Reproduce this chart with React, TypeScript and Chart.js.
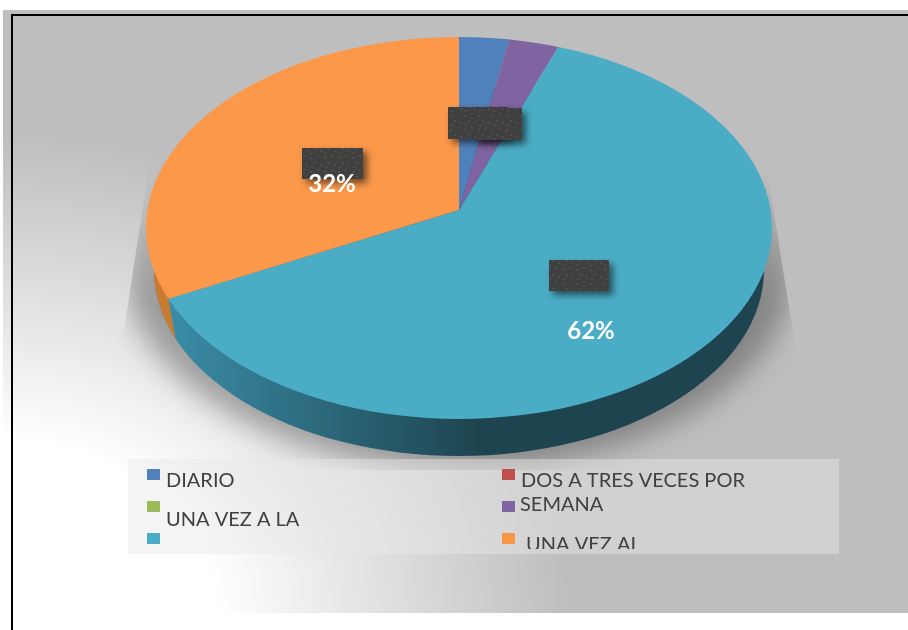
import React, { useEffect, useRef } from "react";
import { Chart, registerables } from "chart.js";

Chart.register(...registerables);

const categories = ["DIARIO", "DOS A TRES VECES POR SEMANA", "UNA VEZ A LA", "", "", "UNA VEZ AL"];
const shares = [3, 0, 0, 3, 62, 32];
const faceColors = ["#4f81bd", "#c0504d", "#9bbb59", "#8064a2", "#4bacc6", "#fb984a"];
const legendSwatches = [
  [147, 469], [502, 469], [147, 501], [502, 501], [147, 533], [502, 533],
];
const legendLines = [
  { text: "DIARIO", x: 166, y: 487 },
  { text: "DOS A TRES VECES POR", x: 521, y: 487 },
  { text: "SEMANA", x: 520, y: 511 },
  { text: "UNA VEZ A LA", x: 166, y: 526 },
  { text: "UNA VEZ AL", x: 526, y: 551 },
];
const tagBoxes = [
  [448, 107, 60, 32], [475, 108, 47, 32], [302, 148, 61, 31], [549, 260, 60, 31],
];
const valueTags = [
  { index: 5, x: 332, y: 184 },
  { index: 4, x: 591, y: 331 },
];

const W = 908;
const H = 630;
const APEX = { x: 459, y: 210 };
const TOP = { x: 459, y: 228, rx: 313, ry: 191 };
const LOW = { x: 459, y: 270, rx: 305, ry: 186 };
const SX = 1.25;
const SY = 0.8125;

function ell(ctx: CanvasRenderingContext2D, e: { x: number; y: number; rx: number; ry: number }) {
  ctx.beginPath();
  ctx.ellipse(e.x, e.y, e.rx, e.ry, 0, 0, Math.PI * 2);
}

function rayToTop(angle: number) {
  const dx = Math.cos(angle) * SX;
  const dy = Math.sin(angle) * SY;
  const oy = APEX.y - TOP.y;
  const a = (dx * dx) / (TOP.rx * TOP.rx) + (dy * dy) / (TOP.ry * TOP.ry);
  const b = (2 * oy * dy) / (TOP.ry * TOP.ry);
  const c = (oy * oy) / (TOP.ry * TOP.ry) - 1;
  const t = (-b + Math.sqrt(b * b - 4 * a * c)) / (2 * a);
  return { x: APEX.x + t * dx, y: APEX.y + t * dy };
}

const scene = {
  id: "scene",
  beforeDraw(chart: any) {
    const ctx: CanvasRenderingContext2D = chart.ctx;
    ctx.save();
    ctx.fillStyle = "#ffffff";
    ctx.fillRect(0, 0, W, H);

    ctx.save();
    ctx.beginPath();
    ctx.rect(3, 10, W - 3, 603);
    ctx.clip();
    ctx.translate(0, 630);
    ctx.scale(1.15, 1);
    const bg = ctx.createRadialGradient(0, 0, 190, 0, 0, 495);
    bg.addColorStop(0, "#ffffff");
    bg.addColorStop(1, "#bebebe");
    ctx.fillStyle = bg;
    ctx.fillRect(0, -640, W, 660);
    ctx.restore();

    ctx.save();
    ctx.beginPath();
    ctx.moveTo(150, 160);
    ctx.lineTo(768, 175);
    ctx.lineTo(795, 345);
    ctx.lineTo(880, 470);
    ctx.lineTo(40, 470);
    ctx.lineTo(124, 330);
    ctx.closePath();
    ctx.clip();
    ctx.filter = "blur(14px)";
    const fade = ctx.createLinearGradient(0, 160, 0, 300);
    fade.addColorStop(0, "rgba(0,0,0,0.03)");
    fade.addColorStop(1, "rgba(0,0,0,0.3)");
    ctx.fillStyle = fade;
    ell(ctx, { x: 459, y: 272, rx: 332, ry: 196 });
    ctx.fill();
    ctx.filter = "none";
    ctx.restore();

    ctx.strokeStyle = "#000000";
    ctx.lineWidth = 2;
    ctx.beginPath();
    ctx.moveTo(12, H);
    ctx.lineTo(12, 15);
    ctx.lineTo(W, 15);
    ctx.stroke();
    ctx.restore();
  },
  beforeDatasetsDraw(chart: any) {
    const ctx: CanvasRenderingContext2D = chart.ctx;
    const arcs = chart.getDatasetMeta(0).data;
    const P = rayToTop(arcs[5].startAngle);
    const Q = { x: P.x + 7, y: P.y + 39 };

    ctx.save();
    const wall = ctx.createLinearGradient(170, 0, 480, 0);
    wall.addColorStop(0, "#3a8ca6");
    wall.addColorStop(1, "#1e444f");
    ctx.fillStyle = wall;
    ell(ctx, LOW);
    ctx.fill();
    ell(ctx, LOW);
    ctx.clip();
    ctx.beginPath();
    ctx.moveTo(P.x - 14, P.y - 78);
    ctx.lineTo(Q.x + 14, Q.y + 78);
    ctx.lineTo(0, Q.y + 78);
    ctx.lineTo(0, P.y - 78);
    ctx.closePath();
    ctx.fillStyle = "#c97b31";
    ctx.fill();
    ctx.restore();

    ctx.save();
    ell(ctx, TOP);
    ctx.clip();
    ctx.translate(APEX.x, APEX.y);
    ctx.scale(SX, SY);
    ctx.translate(-arcs[0].x, -arcs[0].y);
  },
  afterDatasetsDraw(chart: any) {
    const ctx: CanvasRenderingContext2D = chart.ctx;
    ctx.restore();

    const tile = document.createElement("canvas");
    tile.width = 14;
    tile.height = 14;
    const t = tile.getContext("2d")!;
    t.fillStyle = "#404040";
    t.fillRect(0, 0, 14, 14);
    t.fillStyle = "#4e4e4e";
    [[2, 3], [9, 1], [6, 8], [12, 10], [3, 12]].forEach(([x, y]) => t.fillRect(x, y, 2, 2));
    const pattern = ctx.createPattern(tile, "repeat")!;

    ctx.save();
    ctx.shadowColor = "rgba(0,0,0,0.55)";
    ctx.shadowBlur = 7;
    ctx.shadowOffsetX = 4;
    ctx.shadowOffsetY = 4;
    ctx.fillStyle = pattern;
    tagBoxes.forEach(([x, y, w, h]) => ctx.fillRect(x, y, w, h));
    ctx.restore();

    ctx.save();
    ctx.fillStyle = "#ffffff";
    ctx.font = "bold 24px Lato";
    ctx.textAlign = "center";
    ctx.textBaseline = "middle";
    valueTags.forEach((v) => ctx.fillText(`${chart.data.datasets[0].data[v.index]}%`, v.x, v.y));
    ctx.restore();

    ctx.save();
    ctx.fillStyle = "rgba(233,233,233,0.45)";
    ctx.fillRect(128, 459, 711, 95);
    legendSwatches.forEach(([x, y], i) => {
      ctx.fillStyle = i === 5 ? "#f79646" : faceColors[i];
      ctx.fillRect(x, y, 13, 11);
    });
    ctx.beginPath();
    ctx.rect(128, 459, 711, 90);
    ctx.clip();
    ctx.fillStyle = "#404040";
    ctx.font = "20px Lato";
    ctx.textAlign = "left";
    ctx.textBaseline = "alphabetic";
    legendLines.forEach((l) => ctx.fillText(l.text, l.x, l.y));
    ctx.restore();
  },
};

export default function App() {
  const ref = useRef<HTMLCanvasElement>(null);
  useEffect(() => {
    const chart = new Chart(ref.current!, {
      type: "pie",
      data: {
        labels: categories,
        datasets: [
          { data: shares, backgroundColor: faceColors, borderWidth: 0, clip: false } as any,
        ],
      },
      options: {
        animation: false,
        responsive: false,
        events: [],
        layout: { padding: 10 },
        plugins: { legend: { display: false }, tooltip: { enabled: false } },
      },
      plugins: [scene],
    });
    return () => chart.destroy();
  }, []);
  return (
    <div style={{ position: "absolute", left: 0, top: 0, width: W, height: H }}>
      <canvas ref={ref} width={W} height={H} style={{ display: "block" }} />
    </div>
  );
}
